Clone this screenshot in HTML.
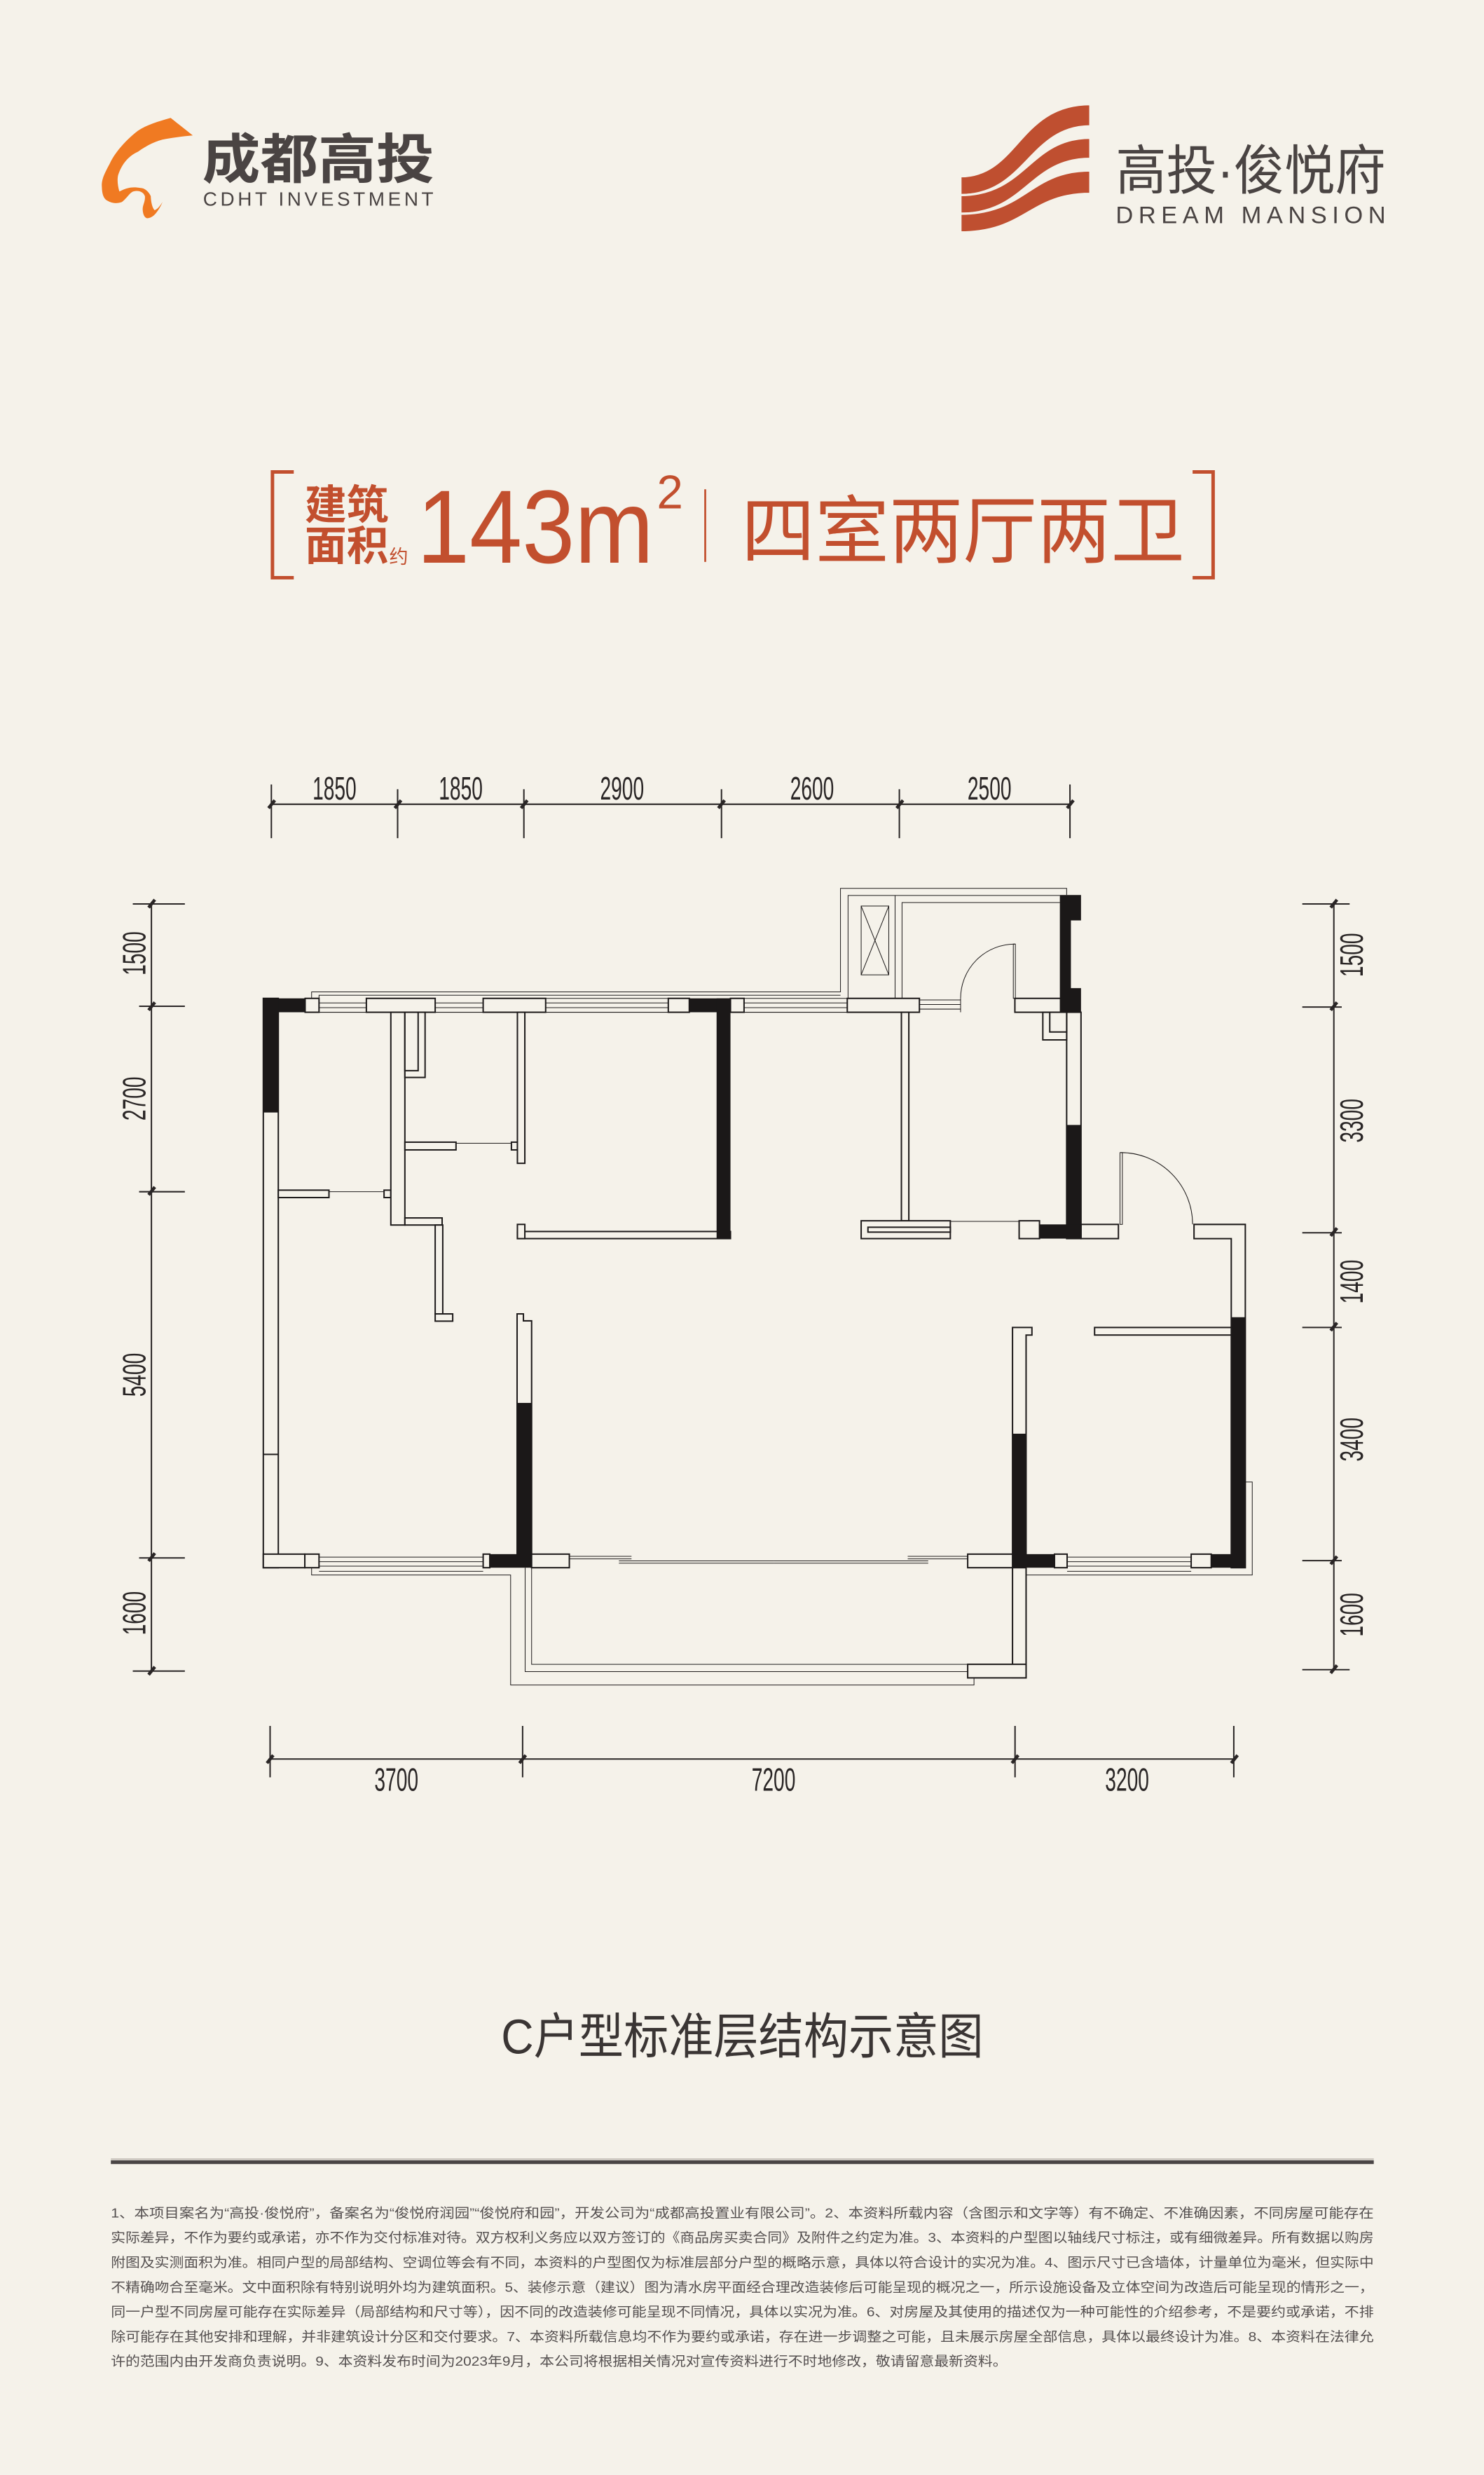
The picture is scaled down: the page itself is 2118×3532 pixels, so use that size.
<!DOCTYPE html>
<html><head><meta charset="utf-8"><style>
html,body{margin:0;padding:0;background:#f5f2ea;}
svg{display:block;}
text{font-family:"Liberation Sans","Noto Sans CJK SC",sans-serif;}
</style></head><body>
<svg width="2118" height="3532" viewBox="0 0 940 1568" xmlns="http://www.w3.org/2000/svg">
<rect x="0" y="0" width="940" height="1568" fill="#f5f2ea"/>

<!-- left logo -->
<path d="M108,74.7 C100,77 93,79 87.3,82.8 C78,90 72,98 69.5,103.5 C66,110 64,114 64.4,118.3 C64.5,123 65.5,126 68,127.2 C71,129 74,129 77,128 C80,126 82,122 84.3,121.3 C87,120.5 90.5,121 91.7,124.3 C92,128 90,130 90.3,133.1 C90.5,136 91.5,138 93.2,138.3 C96,138 98,136 99,134.6 C101,132 102,130 102.8,128 C101,131 99,133 97.7,133.1 C96,131 95.5,127 95.4,124.3 C94,121 91,119 88.8,119.1 C86,118.5 83,118.6 81.4,119.1 C78,119.8 76.5,121 75.5,121.3 C74.5,118 74,114 74.7,111 C77,104 81,99 87.3,96.1 C93,92 99,89 105,88 C111,87 117,86.2 122,85.8 Z" fill="#f07a22"/>
<text x="128" y="113" font-size="34" font-weight="bold" fill="#4a4443" textLength="147" lengthAdjust="spacingAndGlyphs">成都高投</text>
<text x="128.5" y="130.2" font-size="12.4" fill="#4a4443" textLength="146" lengthAdjust="spacing">CDHT INVESTMENT</text>

<!-- right logo -->
<g fill="#bf4f30" stroke="#f5f2ea" stroke-width="1.4">
<path d="M690.7,66 L690.7,80 C652,80 650,123.6 608.4,123.6 L608.4,111.7 C645,111.7 645,66 690.7,66 Z"/>
<path d="M690.7,87.3 L690.7,100.6 C652,100.6 650,135.4 608.4,135.4 L608.4,123.6 C650,123.6 652,87.3 690.7,87.3 Z"/>
<path d="M690.7,108 L690.7,122.8 C652,122.8 650,147.2 608.4,147.2 L608.4,135.4 C650,135.4 652,108 690.7,108 Z"/>
</g>
<text x="706.8" y="120" font-size="34" fill="#4a4443" textLength="171" lengthAdjust="spacingAndGlyphs">高投·俊悦府</text>
<text x="706.8" y="141.3" font-size="15.3" fill="#4a4443" textLength="171" lengthAdjust="spacing">DREAM MANSION</text>

<!-- title -->
<g stroke="#c24f2e" stroke-width="2.2" fill="none">
<polyline points="186,299 172.5,299 172.5,366 186,366"/>
<polyline points="755.5,299 768.5,299 768.5,366 755.5,366"/>
<line x1="446.7" y1="310" x2="446.7" y2="356" stroke-width="1.2"/>
</g>
<g fill="#c24f2e">
<text x="193" y="329" font-size="26" font-weight="bold" textLength="53" lengthAdjust="spacingAndGlyphs">建筑</text>
<text x="193" y="355" font-size="26" font-weight="bold" textLength="53" lengthAdjust="spacingAndGlyphs">面积</text>
<text x="246.5" y="357" font-size="12">约</text>
<text x="264" y="356.5" font-size="66" textLength="150" lengthAdjust="spacingAndGlyphs">143m</text>
<text x="416" y="322" font-size="30">2</text>
<text x="469.5" y="353" font-size="47" textLength="281" lengthAdjust="spacingAndGlyphs">四室两厅两卫</text>
</g>

<!-- dimensions -->
<g stroke="#2a2626" fill="none" stroke-width="0.9">
<line x1="171.8" y1="509.5" x2="677.8" y2="509.5"/>
<line x1="171.8" y1="497" x2="171.8" y2="531"/><line x1="251.8" y1="500" x2="251.8" y2="531"/><line x1="331.8" y1="500" x2="331.8" y2="531"/><line x1="457" y1="500" x2="457" y2="531"/><line x1="569.7" y1="500" x2="569.7" y2="531"/><line x1="677.8" y1="497" x2="677.8" y2="531"/>
<line x1="95.8" y1="572.7" x2="95.8" y2="1058.7"/>
<line x1="84" y1="572.7" x2="117" y2="572.7"/><line x1="88" y1="637.5" x2="117" y2="637.5"/><line x1="88" y1="755" x2="117" y2="755"/><line x1="88" y1="987" x2="117" y2="987"/><line x1="84" y1="1058.7" x2="117" y2="1058.7"/>
<line x1="845" y1="572.7" x2="845" y2="1057.8"/>
<line x1="825" y1="572.7" x2="855" y2="572.7"/><line x1="825" y1="638" x2="850" y2="638"/><line x1="825" y1="781" x2="850" y2="781"/><line x1="825" y1="841" x2="850" y2="841"/><line x1="825" y1="988.7" x2="850" y2="988.7"/><line x1="825" y1="1057.8" x2="855" y2="1057.8"/>
<line x1="171" y1="1114.4" x2="781.6" y2="1114.4"/>
<line x1="171" y1="1093.4" x2="171" y2="1126"/><line x1="331" y1="1093.4" x2="331" y2="1126"/><line x1="643" y1="1093.4" x2="643" y2="1126"/><line x1="781.6" y1="1093.4" x2="781.6" y2="1126"/>
</g>
<g stroke="#2a2626" stroke-width="2">
<line x1="170" y1="512" x2="174" y2="507"/><line x1="250" y1="512" x2="254" y2="507"/><line x1="330" y1="512" x2="334" y2="507"/><line x1="455" y1="512" x2="459" y2="507"/><line x1="568" y1="512" x2="572" y2="507"/><line x1="676" y1="512" x2="680" y2="507"/>
<line x1="94" y1="575" x2="98" y2="570"/><line x1="94" y1="640" x2="98" y2="635"/><line x1="94" y1="757" x2="98" y2="752"/><line x1="94" y1="989" x2="98" y2="984"/><line x1="94" y1="1061" x2="98" y2="1056"/>
<line x1="843" y1="575" x2="847" y2="570"/><line x1="843" y1="640" x2="847" y2="635"/><line x1="843" y1="783" x2="847" y2="778"/><line x1="843" y1="843" x2="847" y2="838"/><line x1="843" y1="991" x2="847" y2="986"/><line x1="843" y1="1060" x2="847" y2="1055"/>
<line x1="169" y1="1117" x2="173" y2="1112"/><line x1="329" y1="1117" x2="333" y2="1112"/><line x1="641" y1="1117" x2="645" y2="1112"/><line x1="780" y1="1117" x2="784" y2="1112"/>
</g>
<g fill="#2a2626" font-size="20.5" text-anchor="middle">
<text transform="translate(211.8,506.6) scale(0.61,1)">1850</text>
<text transform="translate(291.8,506.6) scale(0.61,1)">1850</text>
<text transform="translate(394,506.6) scale(0.61,1)">2900</text>
<text transform="translate(514.4,506.6) scale(0.61,1)">2600</text>
<text transform="translate(626.8,506.6) scale(0.61,1)">2500</text>
<text transform="translate(251,1134.5) scale(0.61,1)">3700</text>
<text transform="translate(490,1134.5) scale(0.61,1)">7200</text>
<text transform="translate(714,1134.5) scale(0.61,1)">3200</text>
<text transform="translate(92,604) rotate(-90) scale(0.61,1)">1500</text>
<text transform="translate(92,696) rotate(-90) scale(0.61,1)">2700</text>
<text transform="translate(92,871) rotate(-90) scale(0.61,1)">5400</text>
<text transform="translate(92,1022) rotate(-90) scale(0.61,1)">1600</text>
<text transform="translate(863.4,605) rotate(-90) scale(0.61,1)">1500</text>
<text transform="translate(863.4,710) rotate(-90) scale(0.61,1)">3300</text>
<text transform="translate(863.4,812) rotate(-90) scale(0.61,1)">1400</text>
<text transform="translate(863.4,912) rotate(-90) scale(0.61,1)">3400</text>
<text transform="translate(863.4,1023) rotate(-90) scale(0.61,1)">1600</text>
</g>

<!-- plan: thin lines -->
<g stroke="#1f1c1c" stroke-width="0.45" fill="none">
<polyline points="197.3,632.5 197.3,628.4 532.4,628.4 532.4,562.8 675.7,562.8 675.7,567"/>
<polyline points="202,632.5 202,630.5 532.4,630.5"/>
<polyline points="537.2,632.5 537.2,567.3 671.4,567.3"/>
<line x1="567" y1="567.3" x2="567" y2="632.5"/>
<polyline points="571.4,632.5 571.4,571.8 671.4,571.8"/>
<rect x="545.5" y="574" width="17.5" height="43.6"/>
<line x1="545.5" y1="574" x2="563" y2="617.6"/><line x1="563" y1="574" x2="545.5" y2="617.6"/>
<g>
<line x1="202" y1="635.4" x2="232" y2="635.4"/><line x1="202" y1="638.4" x2="232" y2="638.4"/><line x1="202" y1="641.3" x2="232" y2="641.3"/>
<line x1="275.6" y1="635.4" x2="306" y2="635.4"/><line x1="275.6" y1="638.4" x2="306" y2="638.4"/><line x1="275.6" y1="641.3" x2="306" y2="641.3"/>
<line x1="345.6" y1="635.4" x2="423.3" y2="635.4"/><line x1="345.6" y1="638.4" x2="423.3" y2="638.4"/><line x1="345.6" y1="641.3" x2="423.3" y2="641.3"/><line x1="345.6" y1="632.5" x2="423.3" y2="632.5"/>
<line x1="471.3" y1="635.4" x2="536.7" y2="635.4"/><line x1="471.3" y1="638.4" x2="536.7" y2="638.4"/><line x1="471.3" y1="641.3" x2="536.7" y2="641.3"/><line x1="471.3" y1="632.5" x2="536.7" y2="632.5"/>
<line x1="582.4" y1="633.5" x2="608.5" y2="633.5"/><line x1="582.4" y1="636.4" x2="608.5" y2="636.4"/><line x1="582.4" y1="639.3" x2="608.5" y2="639.3"/><line x1="608.5" y1="632.5" x2="608.5" y2="641.3"/>
</g>
<path d="M608.5,632.5 A34.4,34.4 0 0 1 642.9,598.1"/>
<rect x="641.9" y="598.1" width="1.3" height="34.4"/>
<path d="M755.5,775.7 A45.5,45.5 0 0 0 710,730.2"/>
<rect x="709.5" y="730.2" width="1.5" height="45.5"/>
<line x1="208.3" y1="755" x2="243.2" y2="755"/>
<line x1="288.8" y1="724.3" x2="323.9" y2="724.3"/>
<line x1="602" y1="773.8" x2="645.6" y2="773.8"/>
<line x1="202" y1="986.5" x2="306" y2="986.5"/><line x1="202" y1="989.4" x2="306" y2="989.4"/><line x1="202" y1="992.2" x2="306" y2="992.2"/><line x1="202" y1="995.5" x2="306" y2="995.5"/>
<polyline points="197.3,993.2 197.3,997.8 323.4,997.8 323.4,1067.5 617,1067.5 617,1063"/>
<polyline points="332.6,993.2 332.6,1059 613,1059"/>
<polyline points="336.7,993.2 336.7,1054.4 613,1054.4"/>
<line x1="360.6" y1="987.6" x2="400" y2="987.6"/><line x1="392" y1="990.3" x2="490" y2="990.3"/><line x1="392" y1="988.9" x2="490" y2="988.9"/><line x1="490" y1="990.3" x2="588" y2="990.3"/><line x1="490" y1="988.9" x2="588" y2="988.9"/><line x1="575" y1="987.6" x2="613" y2="987.6"/><line x1="360.6" y1="986" x2="400" y2="986"/><line x1="575" y1="986" x2="613" y2="986"/>
<line x1="676" y1="986.5" x2="754.6" y2="986.5"/><line x1="676" y1="989.4" x2="754.6" y2="989.4"/><line x1="676" y1="992.2" x2="754.6" y2="992.2"/><line x1="676" y1="995.5" x2="754.6" y2="995.5"/>
<polyline points="650,997.8 793.3,997.8 793.3,938.9 789.2,938.9"/>
</g>

<!-- plan walls -->
<g stroke="#1f1c1c" stroke-width="0.9" fill="#f5f2ea">
<rect x="166.7" y="632.5" width="9.5" height="360.7"/>
<line x1="166.7" y1="921.4" x2="176.2" y2="921.4"/>
<rect x="166.7" y="984.6" width="26.3" height="8.6"/>
<rect x="193.2" y="632.5" width="8.8" height="8.8"/>
<rect x="232" y="632.5" width="43.6" height="8.8"/>
<rect x="306" y="632.5" width="39.6" height="8.8"/>
<rect x="423.3" y="632.5" width="13.3" height="8.8"/>
<rect x="462.7" y="632.5" width="8.6" height="8.8"/>
<rect x="536.7" y="632.5" width="45.7" height="8.8"/>
<rect x="642.9" y="632.5" width="29" height="8.8"/>
<rect x="176.2" y="754" width="32.1" height="4.7"/>
<rect x="243.2" y="754" width="4.3" height="4.7"/>
<rect x="247.5" y="641.3" width="8.9" height="134.8"/>
<rect x="256.4" y="771.6" width="23.6" height="4.5"/>
<rect x="275.6" y="776.1" width="4.8" height="56.3"/>
<rect x="275.6" y="832.4" width="11.1" height="4.6"/>
<rect x="256.4" y="641.3" width="12.8" height="41.3"/>
<rect x="256.4" y="641.3" width="8.4" height="37"/>
<rect x="256.4" y="723.6" width="32.4" height="4.9"/>
<rect x="323.9" y="723.6" width="3.8" height="4.9"/>
<rect x="327.7" y="641.3" width="4.7" height="95.7"/>
<rect x="327.7" y="780.2" width="135" height="4.5"/>
<rect x="327.7" y="775.7" width="4.7" height="9"/>
<rect x="571" y="641.3" width="4.7" height="132.1"/>
<rect x="545.5" y="773.4" width="56.5" height="11.3"/>
<rect x="549.8" y="777.5" width="52.2" height="3.1"/>
<rect x="645.6" y="773.4" width="12.9" height="11.3"/>
<rect x="684.8" y="775.7" width="23.7" height="9"/>
<rect x="675.7" y="641.3" width="9.1" height="143.4"/>
<polygon points="660.6,641.3 675.7,641.3 675.7,658.8 660.6,658.8"/>
<rect x="665" y="641.3" width="10.7" height="12.5"/>
<polygon points="756.4,775.7 788.9,775.7 788.9,993.2 780,993.2 780,784.7 756.4,784.7"/>
<rect x="693.4" y="841" width="86.6" height="4.8"/>
<rect x="193" y="984.6" width="9" height="8.6"/>
<rect x="306" y="984.6" width="4.2" height="8.6"/>
<rect x="336.7" y="984.6" width="23.9" height="8.6"/>
<rect x="613" y="984.6" width="28.4" height="8.6"/>
<rect x="668" y="984.6" width="8" height="8.6"/>
<rect x="754.6" y="984.6" width="12.7" height="8.6"/>
<polygon points="327.5,832.4 331.5,832.4 331.5,836.8 336.7,836.8 336.7,984.6 327.5,984.6"/>
<polygon points="641.4,841 653.7,841 653.7,845.8 650,845.8 650,984.6 641.4,984.6"/>
<rect x="641.4" y="993.2" width="8.6" height="69.8"/>
<rect x="613" y="1054.4" width="37" height="8.6"/>
</g>
<g fill="#1b1818">
<rect x="166.7" y="632.5" width="26.5" height="8.8"/>
<rect x="166.7" y="632.5" width="9.5" height="72.3"/>
<rect x="436.6" y="632.5" width="26.1" height="8.8"/>
<rect x="453.9" y="632.5" width="8.8" height="152.2"/>
<polygon points="671.4,567 684.8,567 684.8,583.1 678.4,583.1 678.4,626 684.8,626 684.8,641.3 671.4,641.3"/>
<rect x="675.7" y="712.7" width="9.1" height="72"/>
<rect x="658.5" y="775.7" width="26.3" height="9"/>
<rect x="780" y="834.5" width="9.2" height="158.7"/>
<rect x="767.3" y="984.6" width="21.9" height="8.6"/>
<rect x="310.2" y="984.6" width="26.5" height="8.6"/>
<rect x="327.5" y="888.8" width="9.2" height="100"/>
<rect x="641.4" y="984.6" width="26.6" height="8.6"/>
<rect x="641.4" y="908.3" width="8.6" height="80"/>
</g>

<text x="317.4" y="1301" font-size="31" fill="#3a3534" textLength="305.6" lengthAdjust="spacingAndGlyphs">C户型标准层结构示意图</text>

<rect x="70.1" y="1368.6" width="800.2" height="2.4" fill="#4a4545"/>
<line x1="70.1" y1="1367.8" x2="870.3" y2="1367.8" stroke="#b8b2aa" stroke-width="0.6"/>
<g font-size="8.4" fill="#555050">
<text x="70.1" y="1404.8" textLength="800.2" lengthAdjust="spacingAndGlyphs">1、本项目案名为“高投·俊悦府”，备案名为“俊悦府润园”“俊悦府和园”，开发公司为“成都高投置业有限公司”。2、本资料所载内容（含图示和文字等）有不确定、不准确因素，不同房屋可能存在</text>
<text x="70.1" y="1420.5" textLength="800.2" lengthAdjust="spacingAndGlyphs">实际差异，不作为要约或承诺，亦不作为交付标准对待。双方权利义务应以双方签订的《商品房买卖合同》及附件之约定为准。3、本资料的户型图以轴线尺寸标注，或有细微差异。所有数据以购房</text>
<text x="70.1" y="1436.2" textLength="800.2" lengthAdjust="spacingAndGlyphs">附图及实测面积为准。相同户型的局部结构、空调位等会有不同，本资料的户型图仅为标准层部分户型的概略示意，具体以符合设计的实况为准。4、图示尺寸已含墙体，计量单位为毫米，但实际中</text>
<text x="70.1" y="1451.8" textLength="800.2" lengthAdjust="spacingAndGlyphs">不精确吻合至毫米。文中面积除有特别说明外均为建筑面积。5、装修示意（建议）图为清水房平面经合理改造装修后可能呈现的概况之一，所示设施设备及立体空间为改造后可能呈现的情形之一，</text>
<text x="70.1" y="1467.5" textLength="800.2" lengthAdjust="spacingAndGlyphs">同一户型不同房屋可能存在实际差异（局部结构和尺寸等），因不同的改造装修可能呈现不同情况，具体以实况为准。6、对房屋及其使用的描述仅为一种可能性的介绍参考，不是要约或承诺，不排</text>
<text x="70.1" y="1483.2" textLength="800.2" lengthAdjust="spacingAndGlyphs">除可能存在其他安排和理解，并非建筑设计分区和交付要求。7、本资料所载信息均不作为要约或承诺，存在进一步调整之可能，且未展示房屋全部信息，具体以最终设计为准。8、本资料在法律允</text>
<text x="70.1" y="1498.8" textLength="568" lengthAdjust="spacingAndGlyphs">许的范围内由开发商负责说明。9、本资料发布时间为2023年9月，本公司将根据相关情况对宣传资料进行不时地修改，敬请留意最新资料。</text>
</g>
</svg>
</body></html>
